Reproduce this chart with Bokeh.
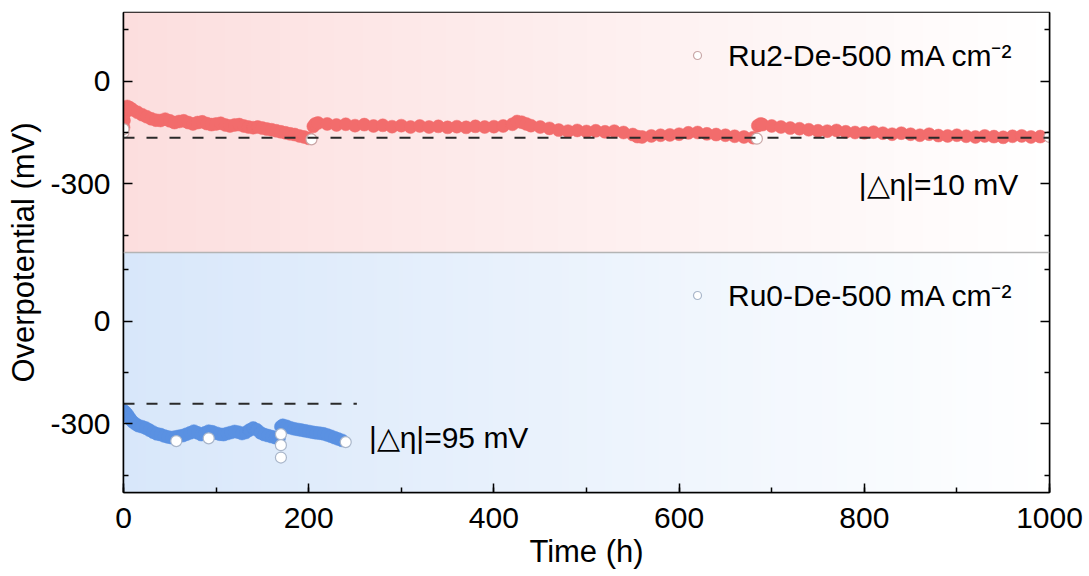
import numpy as np
from bokeh.plotting import figure
from bokeh.models import (Range1d, LinearAxis, FixedTicker, SingleIntervalTicker,
                          Span, Label, Legend, LegendItem, CustomLabelingPolicy)
from bokeh.embed import file_html
from bokeh.resources import INLINE

# ---- Ru2-De at 500 mA cm-2 (time in h, overpotential in mV) ----
ru2_time = [0, 0.5, 1, 2, 4, 7, 10, 15, 20, 25, 30, 35, 40, 45, 50, 55, 60, 65, 70, 75,
            80, 85, 90, 95, 100, 105, 110, 115, 120, 125, 130, 135, 140, 145, 150, 155,
            160, 165, 170, 175, 180, 185, 190, 195, 200,
            205, 207, 210, 220, 230, 240, 250, 260, 270, 280, 290, 300, 310, 320, 330,
            340, 350, 360, 370, 380, 390, 400, 410, 420, 425, 430, 435, 440, 450, 460,
            470, 480, 490, 500, 510, 520, 530, 540, 550, 555, 560, 570, 580, 590, 600,
            610, 620, 630, 640, 650, 660, 670, 680,
            685, 688, 690, 700, 710, 720, 730, 740, 750, 760, 770, 780, 790, 800, 810,
            820, 830, 840, 850, 860, 870, 880, 890, 900, 910, 920, 930, 940, 950, 960,
            970, 980, 990]
ru2_eta = [-135, -115, -95, -80, -74, -78, -84, -91, -98, -104, -110, -114, -115, -111,
           -116, -121, -118, -116, -121, -125, -121, -119, -124, -127, -125, -123, -128,
           -131, -128, -127, -131, -134, -136, -134, -137, -140, -142, -145, -148, -151,
           -154, -156, -160, -163, -167,
           -132, -125, -122, -125, -128, -126, -130, -127, -131, -129, -133, -130, -134,
           -131, -134, -132, -135, -133, -135, -132, -134, -133, -131, -126, -118, -120,
           -125, -130, -134, -138, -143, -146, -144, -147, -145, -148, -146, -150, -156,
           -162, -163, -160, -158, -157, -155, -151, -150, -154, -156, -158, -161, -163,
           -165,
           -130, -125, -127, -131, -134, -137, -139, -142, -145, -146, -144, -148, -150,
           -151, -149, -152, -155, -152, -155, -158, -155, -159, -160, -158, -161, -163,
           -160, -162, -164, -161, -160, -163, -162]
# points drawn hollow (start, restarts and final reading)
ru2_open_time = [0, 0, 203, 684, 1000]
ru2_open_eta = [-150, -140, -170, -168, -163]

# ---- Ru0-De at 500 mA cm-2 ----
ru0_time = [0, 2, 4, 6, 8, 10, 13, 16, 20, 24, 28, 32, 36, 40, 44, 48, 52, 56, 60, 64,
            68, 72, 76, 80, 84, 88, 92, 96, 100, 104, 108, 112, 116, 120, 124, 128, 132,
            136, 140, 144, 148, 152, 156, 160, 164, 168,
            170, 172, 176, 180, 184, 188, 192, 196, 200, 204, 208, 212, 216, 220, 224,
            228, 232, 236]
ru0_eta = [-261, -266, -272, -280, -288, -294, -300, -305, -308, -312, -318, -324, -329,
           -331, -335, -338, -340, -338, -336, -334, -330, -326, -321, -326, -331, -326,
           -321, -323, -327, -330, -331, -328, -325, -322, -324, -328, -325, -318, -312,
           -317, -326, -331, -334, -337, -340, -341,
           -308, -304, -307, -311, -314, -316, -318, -320, -322, -324, -326, -327, -329,
           -332, -336, -340, -344, -348]
ru0_open_time = [57, 92, 170, 170, 170, 240]
ru0_open_eta = [-350, -342, -330, -362, -398, -353]

# reference levels and their labels
ru2_ref = -165
ru0_ref = -241
ru0_ref_end = 252
ru2_label = "Ru2-De-500 mA cm\u207b\u00b2"
ru0_label = "Ru0-De-500 mA cm\u207b\u00b2"
ru2_delta = "|\u25b3\u03b7|=10 mV"
ru0_delta = "|\u25b3\u03b7|=95 mV"

# panel limits (mV); both panels share one frame, stacked
panel_lo, panel_hi = -500, 200
panel_h = panel_hi - panel_lo
major_mv = [0, -300]
minor_mv = [150, -150, -450]

FONT = "Liberation Sans"
FS = "30px"
RED, BLUE = "#F26C6C", "#5A91E2"

p = figure(width=1089, height=576, output_backend="svg", toolbar_location=None,
           x_range=Range1d(0, 1000),
           y_range=Range1d(panel_lo - panel_h, panel_hi),   # Ru2 panel (upper half)
           min_border_left=123, min_border_right=40,
           min_border_top=12, min_border_bottom=84)
p.extra_y_ranges = {"ru0": Range1d(panel_lo, panel_hi + panel_h)}  # Ru0 panel (lower half)
p.grid.visible = False
p.background_fill_color = "white"
p.outline_line_color = "black"
p.outline_line_width = 1.5


def gradient(rgb):
    n = 256
    t = np.linspace(0, 1, n)
    img = np.empty((1, n), dtype=np.uint32)
    view = img.view(dtype=np.uint8).reshape((1, n, 4))
    for k in range(3):
        view[0, :, k] = np.round(rgb[k] + (255 - rgb[k]) * t).astype(np.uint8)
    view[0, :, 3] = 255
    return img


p.image_rgba(image=[gradient((252, 222, 222))], x=0, y=panel_lo, dw=1000, dh=panel_h)
p.image_rgba(image=[gradient((216, 231, 250))], x=0, y=panel_lo, dw=1000, dh=panel_h,
             y_range_name="ru0")

p.add_layout(Span(location=panel_lo, dimension="width", line_color="#b4b4b4",
                  line_width=1.5))

# Ru2 trace
p.scatter(ru2_time, ru2_eta, marker="circle", size=13, fill_color=RED,
          line_color=RED, line_width=0.5)
ru2_open = p.scatter(ru2_open_time, ru2_open_eta, marker="circle", size=11,
                     fill_color="white", line_color="#C9A7A7", line_width=1.2)

# Ru0 trace
p.scatter(ru0_time, ru0_eta, marker="circle", size=13, fill_color=BLUE,
          line_color=BLUE, line_width=0.5, y_range_name="ru0")
ru0_open = p.scatter(ru0_open_time, ru0_open_eta, marker="circle", size=11,
                     fill_color="white", line_color="#A9B6CA", line_width=1.2,
                     y_range_name="ru0")

# dashed reference levels
p.add_layout(Span(location=ru2_ref, dimension="width", line_color="#2a2a2a",
                  line_width=2, line_dash="11 12"))
p.segment(x0=[0], y0=[ru0_ref], x1=[ru0_ref_end], y1=[ru0_ref], line_color="#2a2a2a",
          line_width=2, line_dash="11 12", y_range_name="ru0")

# y ticks: same mV values in each panel
shift = panel_h
y_major = major_mv + [v - shift for v in major_mv]
y_minor = minor_mv + [v - shift for v in minor_mv]
overrides = {v: str(v) for v in major_mv}
overrides.update({v - shift: str(v) for v in major_mv})

yax = p.yaxis[0]
yax.ticker = FixedTicker(ticks=y_major, minor_ticks=y_minor)
yax.major_label_overrides = overrides
yax.axis_label = "Overpotential (mV)"

xax = p.xaxis[0]
xax.ticker = SingleIntervalTicker(interval=200, num_minor_ticks=2)
xax.axis_label = "Time (h)"

# mirrored tick marks on the right, without labels
right = LinearAxis(ticker=FixedTicker(ticks=y_major, minor_ticks=y_minor),
                   major_label_standoff=0,
                   major_label_policy=CustomLabelingPolicy(
                       code="for (const i of indices) { indices.unset(i) }\nreturn indices"))
p.add_layout(right, "right")

for ax in (xax, yax, right):
    ax.axis_line_color = "black"
    ax.axis_line_width = 1.5
    ax.major_tick_line_color = "black"
    ax.minor_tick_line_color = "black"
    ax.major_tick_line_width = 1.5
    ax.minor_tick_line_width = 1.5
    ax.major_tick_in = 9
    ax.major_tick_out = 0
    ax.minor_tick_in = 5
    ax.minor_tick_out = 0
for ax in (xax, yax):
    ax.major_label_text_font = FONT
    ax.major_label_text_font_size = FS
    ax.major_label_text_color = "black"
    ax.axis_label_text_font = FONT
    ax.axis_label_text_font_size = "31px"
    ax.axis_label_text_font_style = "normal"
    ax.axis_label_text_color = "black"
yax.major_label_standoff = 13
yax.axis_label_standoff = 6
xax.major_label_standoff = 15
xax.axis_label_standoff = 3

# legends (symbol taken from each series' hollow markers)
for item, loc in ((LegendItem(label=ru2_label, renderers=[ru2_open]), (564, 417)),
                  (LegendItem(label=ru0_label, renderers=[ru0_open]), (564, 177))):
    leg = Legend(items=[item], location=loc, border_line_alpha=0,
                 background_fill_alpha=0, label_text_font=FONT,
                 label_text_font_size=FS, label_text_color="black",
                 glyph_width=20, glyph_height=20,
                 label_standoff=21, padding=0, margin=0, spacing=0)
    p.add_layout(leg)

p.add_layout(Label(x=794, y=-303, text=ru2_delta, text_baseline="middle",
                   text_font=FONT, text_font_size=FS, text_color="black"))
p.add_layout(Label(x=265, y=-340, y_range_name="ru0", text=ru0_delta,
                   text_baseline="middle", text_font=FONT, text_font_size=FS,
                   text_color="black"))

open("out.html", "w").write(file_html(p, INLINE))
